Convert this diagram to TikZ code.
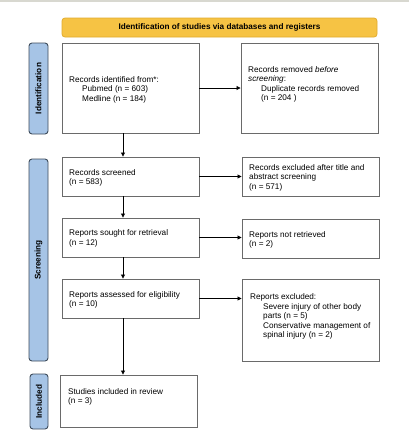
\documentclass[tikz,border=0pt]{standalone}
\usepackage{fontspec}
\setmainfont{Liberation Sans}[Ligatures=NoCommon]
\usetikzlibrary{arrows.meta}
\definecolor{hdrfill}{HTML}{F6C344}
\definecolor{hdrline}{HTML}{E2AC2E}
\definecolor{barfill}{HTML}{A6C4E6}
\definecolor{barline}{HTML}{3E4C5C}
\definecolor{boxline}{HTML}{6A6A6A}
\definecolor{topline}{HTML}{D8D8D0}
\begin{document}
\begin{tikzpicture}[x=1pt,y=-1pt,
  box/.style={draw=boxline, line width=0.9pt, fill=white, inner sep=0pt},
  hdr/.style={draw=hdrline, line width=0.8pt, fill=hdrfill, rounded corners=3pt, inner sep=0pt,
    font=\fontsize{8.2}{9.5}\selectfont\bfseries},
  sidebar/.style={draw=barline, line width=0.9pt, fill=barfill, rounded corners=3pt, inner sep=0pt},
  sidelbl/.style={rotate=90, font=\fontsize{8.2}{9.5}\selectfont\bfseries, inner sep=0pt},
  txt/.style={anchor=north west, align=left, inner sep=0pt, font=\fontsize{8.2}{9.5}\selectfont},
  conn/.style={line width=0.8pt, -{Triangle[length=4pt,width=4pt]}}]
\useasboundingbox (0,0) rectangle (409,440);
\fill[white] (0,0) rectangle (409,440);
\draw[topline, line width=1.5pt] (0,1) -- (409,1);
\coordinate (ax) at (123,0);
% header
\node[hdr, minimum width=315pt, minimum height=19pt] (hdr) at (219.5,27.5) {Identification of studies via databases and registers};
% side bars
\node[sidebar, minimum width=19pt, minimum height=91pt] (bid) at (38.5,88.5) {};
\node[sidelbl] (lid) at (bid.center) {Identification};
\node[sidebar, minimum width=19pt, minimum height=202pt] (bsc) at (38.5,260) {};
\node[sidelbl] (lsc) at (bsc.center) {Screening};
\node[sidebar, minimum width=18pt, minimum height=55pt] (bin) at (39,401.5) {};
\node[sidelbl] (lin) at (bin.center) {Included};
% boxes
\node[box, minimum width=137pt, minimum height=90pt] (b1) at (130.5,88) {};
\node[box, minimum width=137pt, minimum height=90pt] (b2) at (309.5,88) {};
\node[box, minimum width=137pt, minimum height=39pt] (b3) at (130.5,176.5) {};
\node[box, minimum width=137pt, minimum height=39pt] (b4) at (310.5,176.5) {};
\node[box, minimum width=137pt, minimum height=39pt] (b5) at (130.5,237.5) {};
\node[box, minimum width=137pt, minimum height=39pt] (b6) at (310.5,238.5) {};
\node[box, minimum width=137pt, minimum height=39pt] (b7) at (130.5,298.5) {};
\node[box, minimum width=137pt, minimum height=82pt] (b8) at (310.5,320) {};
\node[box, minimum width=137pt, minimum height=52pt] (b9) at (128.5,401) {};
% texts
\node[txt] (t1) at (69,76) {Records identified from*:\\\hspace*{13pt}Pubmed (n = 603)\\\hspace*{13pt}Medline (n = 184)};
\node[txt] (t2) at (248,66) {Records removed \textit{before}\\\textit{screening}:\\\hspace*{13pt}Duplicate records removed\\\hspace*{13pt}(n = 204 )};
\node[txt] (t3) at (69,169) {Records screened\\(n = 583)};
\node[txt] (t4) at (249,164.3) {Records excluded after title and\\abstract screening\\(n = 571)};
\node[txt] (t5) at (69,229.7) {Reports sought for retrieval\\(n = 12)};
\node[txt] (t6) at (249,231.3) {Reports not retrieved\\(n = 2)};
\node[txt] (t7) at (69,291) {Reports assessed for eligibility\\(n = 10)};
\node[txt] (t8) at (250,293.7) {Reports excluded:\\\hspace*{13pt}Severe injury of other body\\\hspace*{13pt}parts (n = 5)\\\hspace*{13pt}Conservative management of\\\hspace*{13pt}spinal injury (n = 2)};
\node[txt] (t9) at (68,388.3) {Studies included in review\\(n = 3)};
% connectors
\draw[conn] (b1.east) -- (b1.east -| b2.west);
\draw[conn] (b3.east) -- (b3.east -| b4.west);
\draw[conn] (b5.east) -- (b5.east -| b6.west);
\draw[conn] (b7.east) -- (b7.east -| b8.west);
\draw[conn] (b1.south -| ax) -- (b3.north -| ax);
\draw[conn] (b3.south -| ax) -- (b5.north -| ax);
\draw[conn] (b5.south -| ax) -- (b7.north -| ax);
\draw[conn] (b7.south -| ax) -- (b9.north -| ax);
\end{tikzpicture}
\end{document}
